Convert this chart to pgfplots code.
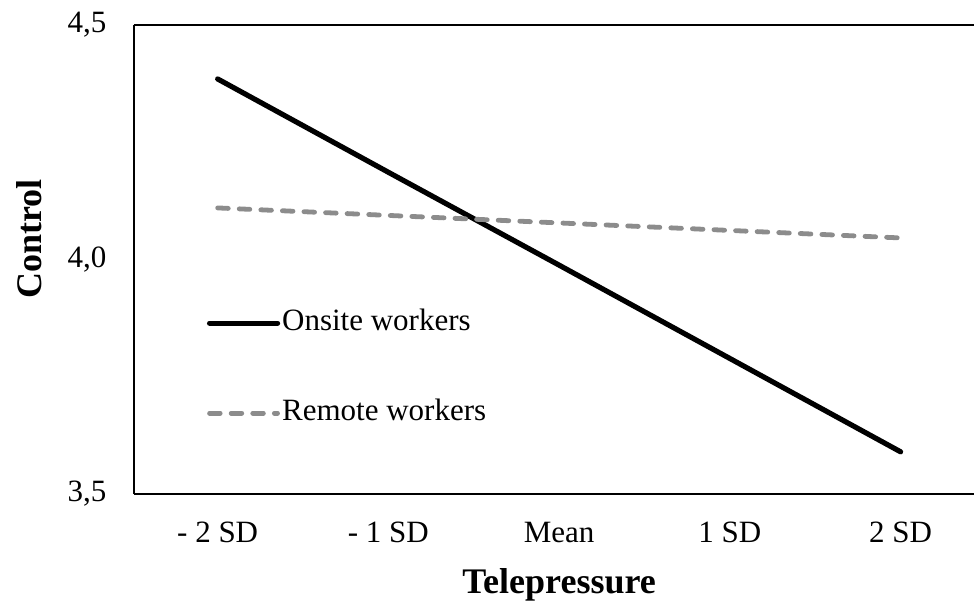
\documentclass[border=0pt]{standalone}
\usepackage{fontspec}
\setmainfont{Liberation Serif}
\usepackage{pgfplots}
\pgfplotsset{compat=1.18}
\definecolor{remgray}{HTML}{8C8C8C}
\begin{document}
\fontsize{15.5pt}{18pt}\selectfont
\begin{tikzpicture}
\begin{axis}[
  scale only axis,
  width=420pt, height=234.5pt,
  xmin=-0.49, xmax=4.43,
  ymin=3.5, ymax=4.5,
  axis x line=box, axis y line=left,
  axis line style={-, line width=1pt, black},
  xtick={0,1,2,3,4},
  xticklabels={- 2 SD, - 1 SD, Mean, 1 SD, 2 SD},
  ytick={3.5,4,4.5},
  yticklabels={{3,5},{4,0},{4,5}},
  major tick length=0pt,
  xtick style={draw=none}, ytick style={draw=none},
  x tick label style={font=\fontsize{15.5pt}{18pt}\selectfont},
  y tick label style={font=\fontsize{15.5pt}{18pt}\selectfont},
  xticklabel style={yshift=-8.5pt},
  yticklabel style={xshift=-8.5pt},
  xlabel={Telepressure},
  ylabel={Control},
  xlabel style={font=\fontsize{18pt}{21pt}\selectfont\bfseries, at={(axis cs:2,3.5)}, anchor=base, yshift=-49.5pt},
  ylabel style={font=\fontsize{18pt}{21pt}\selectfont\bfseries, at={([xshift=-46pt]axis description cs:0,0.5437)}, rotate=0, anchor=base},
  legend style={draw=none, fill=none, at={(axis cs:-0.065,3.5)}, anchor=south west, yshift=32pt,
    font=\fontsize{15.5pt}{18pt}\selectfont, row sep=28.5pt, inner sep=0pt,
    nodes={inner sep=1pt, text height=11pt, text depth=3.5pt}},
  legend cell align=left,
  legend image code/.code={\draw[#1] (0pt,0pt) -- (34pt,0pt);},
  clip=false,
]
\addplot[line width=2.6pt, black, line cap=round] coordinates {(0,4.385) (1,4.186) (2,3.988) (3,3.789) (4,3.590)};
\addlegendentry{Onsite workers}
\addplot[line width=2.4pt, remgray, line cap=round, dash pattern=on 5.3pt off 5.5pt] coordinates {(0,4.110) (1,4.094) (2,4.078) (3,4.062) (4,4.046)};
\addlegendentry{Remote workers}
\end{axis}
\pgfresetboundingbox
\path[use as bounding box] (-67pt,-54pt) rectangle (420pt,247pt);
\end{tikzpicture}
\end{document}
